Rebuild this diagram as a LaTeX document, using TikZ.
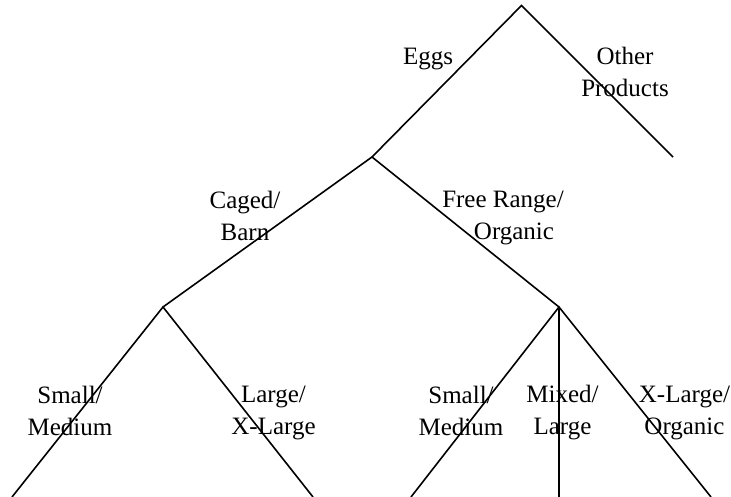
\documentclass[tikz,border=0pt]{standalone}
\usepackage{fontspec}
\setmainfont{Liberation Serif}
\begin{document}
\begin{tikzpicture}[x=1pt,y=-1pt,
  branch/.style={line width=1.6pt, line cap=butt},
  lbl/.style={align=center, inner sep=0pt, font=\fontsize{25}{32}\selectfont}]
\useasboundingbox (0,0) rectangle (731,497);
% junctions
\coordinate (root) at (521.5,5.5);
\coordinate (eggs) at (372,157);
\coordinate (other) at (673,157);
\coordinate (caged) at (163,307);
\coordinate (free) at (559,307);
\coordinate (c1) at (12,497);
\coordinate (c2) at (313,497);
\coordinate (f1) at (411,497);
\coordinate (f2) at (559,497);
\coordinate (f3) at (711,497);
% branches
\draw[branch] (eggs) -- (root) -- (other);
\draw[branch] (caged) -- (eggs) -- (free);
\draw[branch] (c1) -- (caged) -- (c2);
\draw[branch] (f1) -- (free) -- (f3);
\draw[branch] (free) -- (f2);
% labels
\node[lbl] (leggs) at (428,59.5) {Eggs};
\node[lbl] (lother) at (625,71.5) {Other\\Products};
\node[lbl] (lcaged) at (245,216) {Caged/\\Barn};
\node[lbl] (lfree) at (508.5,218) {Free Range/\hspace*{11pt}\\\hspace*{11pt}Organic};
\node[lbl] (lcsm) at (70,411) {Small/\\Medium};
\node[lbl] (lcxl) at (273.5,413) {Large/\\X-Large};
\node[lbl] (lfsm) at (461,411) {Small/\\Medium};
\node[lbl] (lfml) at (562.5,413) {Mixed/\\Large};
\node[lbl] (lfxo) at (684.5,413) {X-Large/\\Organic};
\end{tikzpicture}
\end{document}
